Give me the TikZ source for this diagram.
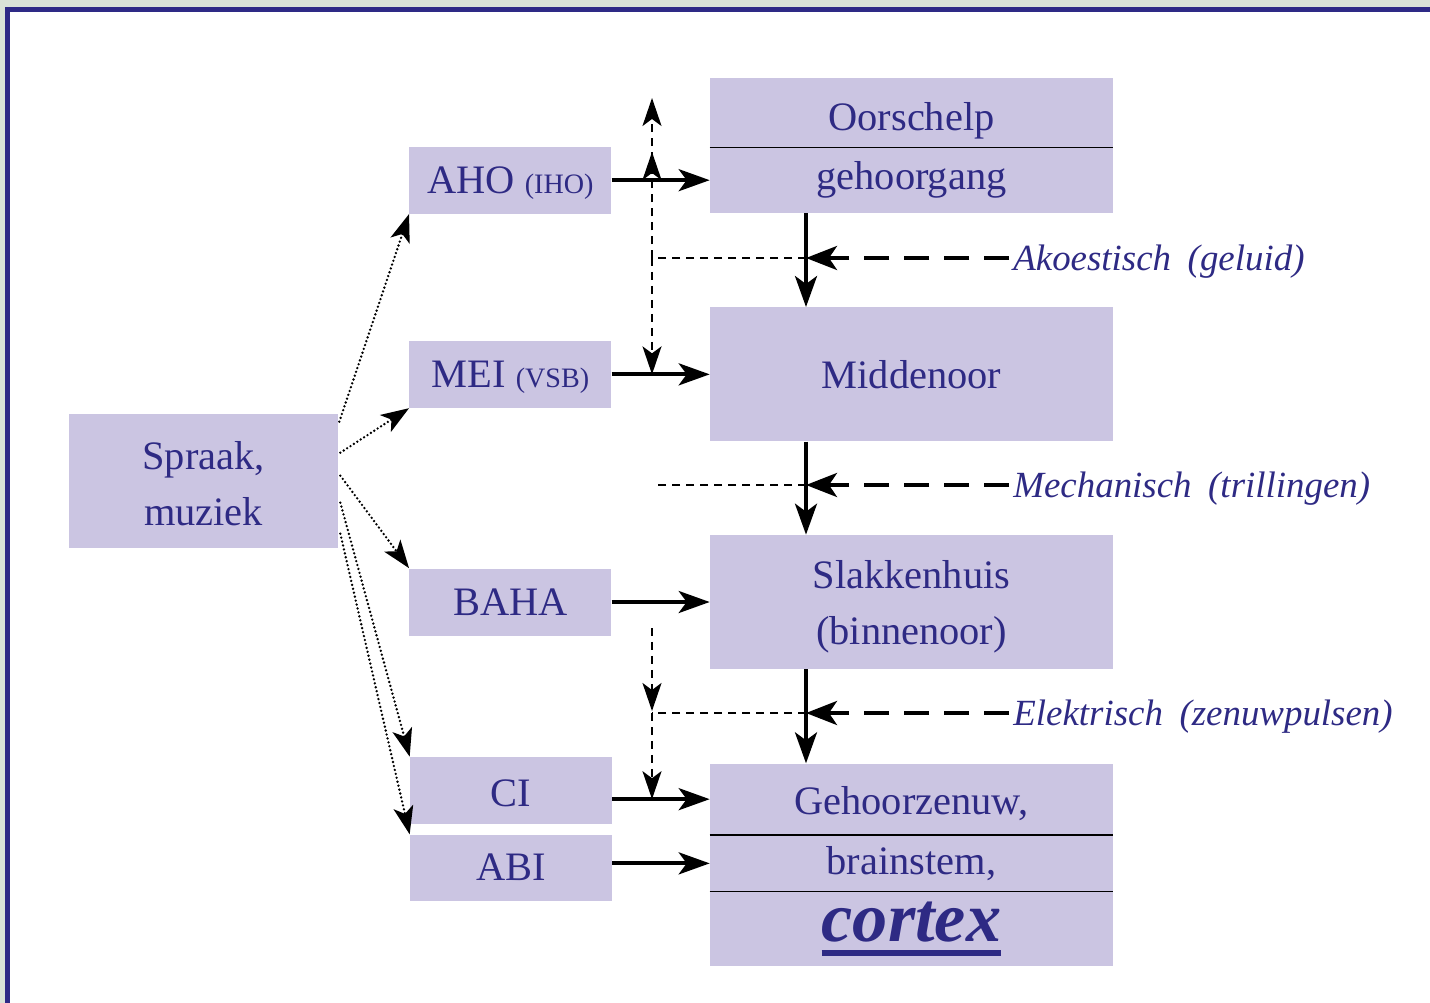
\documentclass[tikz,border=0pt]{standalone}
\usepackage{fontspec}
\setmainfont{Liberation Serif}
\usetikzlibrary{arrows.meta,positioning,calc}
\definecolor{paper}{HTML}{DAE3D8}
\definecolor{frameblue}{HTML}{2E2A86}
\definecolor{ink}{HTML}{2E2A84}
\definecolor{lilac}{HTML}{CBC5E2}
\newcommand{\ctxline}[1]{\setbox0\hbox{#1}\rlap{\rule[-8.5pt]{\wd0}{3.4pt}}\box0}
\newcommand{\smallpart}[1]{{\fontsize{16}{16}\selectfont #1}}
\tikzset{
  organ/.style={rectangle, fill=lilac, text=ink, inner sep=0pt,
    minimum width=8.06cm, font=\fontsize{23}{32}\selectfont},
  aid/.style={rectangle, fill=lilac, text=ink, inner sep=0pt,
    minimum width=4.04cm, minimum height=1.34cm, font=\fontsize{23}{32}\selectfont},
  kind/.style={text=ink, inner sep=0.08cm, anchor=west, text height=19pt,
    font=\fontsize{21}{24}\selectfont\itshape},
  sig/.style={-{Stealth[length=0.62cm,width=0.44cm,inset=0.16cm]}, line width=2.2pt},
  kindarrow/.style={-{Stealth[length=0.62cm,width=0.48cm,inset=0.16cm]}, line width=2.2pt,
    dash pattern=on 0.5cm off 0.3cm},
  route/.style={line width=1.1pt, dash pattern=on 0.16cm off 0.12cm},
  routearrow/.style={route, -{Stealth[length=0.56cm,width=0.38cm,inset=0.14cm]}},
  feed/.style={-{Stealth[length=0.56cm,width=0.4cm,inset=0.14cm]}, line width=1.5pt,
    dash pattern=on 0pt off 2.3pt, line cap=round}
}

\begin{document}
\begin{tikzpicture}[x=0.02cm, y=-0.02cm]
  \useasboundingbox (0,0) rectangle (1430,1003);
  \fill[paper] (0,0) rectangle (1430,1003);
  \begin{scope}
    \clip (0,0) rectangle (1430,1003);
    \filldraw[fill=white, draw=frameblue, line width=3.2pt] (7.5,9.5) rectangle (1460,1030);
  \end{scope}

  % organs of the ear, right column
  \node[organ, minimum height=1.38cm, text height=25pt] (oor1) at (911.5,112.5) {Oorschelp};
  \node[organ, minimum height=1.30cm, below=0pt of oor1] (oor2) {gehoorgang};
  \node[organ, minimum height=2.68cm, below=1.88cm of oor2] (mid) {Middenoor};
  \node[organ, minimum height=2.68cm, below=1.86cm of mid, align=center] (slak)
    {\rule{0pt}{21.5pt}Slakkenhuis\\(binnenoor)};
  \node[organ, minimum height=1.42cm, below=1.88cm of slak, text height=21.5pt] (hz1) {Gehoorzenuw,};
  \node[organ, minimum height=1.12cm, below=0pt of hz1] (hz2) {brainstem,};
  \node[organ, minimum height=1.48cm, below=0pt of hz2] (hz3)
    {\ctxline{\fontsize{40}{40}\selectfont\bfseries\itshape cortex}};
  \draw[line width=0.8pt] (oor1.south west) -- (oor1.south east);
  \draw[line width=0.8pt] (hz1.south west) -- (hz1.south east);
  \draw[line width=0.8pt] (hz2.south west) -- (hz2.south east);

  % hearing aids and implants
  \node[aid, left=1.96cm of oor2, text depth=0pt] (aho) {AHO \smallpart{(IHO)}};
  \node[aid, left=1.96cm of mid, text depth=0pt] (mei) {MEI \smallpart{(VSB)}};
  \node[aid, left=1.96cm of slak] (baha) {BAHA};
  \node[aid, text height=18.6pt, text depth=0pt] (ci) at (511,790.5) {CI};
  \node[aid, minimum height=1.32cm, below=0.2cm of ci] (abi) {ABI};
  \node[aid, minimum width=5.38cm, minimum height=2.68cm, align=center] (spraak) at (203.5,481)
    {\rule{0pt}{19.3pt}Spraak,\\muziek};

  % kind of signal
  \node[kind] (ak) at (1009,258) {Akoestisch\hspace{0.45em}(geluid)};
  \node[kind] (mech) at (1009,485) {Mechanisch\hspace{0.45em}(trillingen)};
  \node[kind] (elek) at (1009,713) {Elektrisch\hspace{0.45em}(zenuwpulsen)};

  \coordinate (spine) at (806,0);
  \coordinate (tap) at (652,0);
  \coordinate (tA) at (652,98);
  \coordinate (tB) at (652,152);
  \coordinate (tE) at (652,628);

  % main signal path
  \draw[sig] (oor2.south -| spine) -- (mid.north -| spine);
  \draw[sig] (mid.south -| spine) -- (slak.north -| spine);
  \draw[sig] (slak.south -| spine) -- (hz1.north -| spine);
  \draw[kindarrow] (ak.west) -- (ak.west -| spine);
  \draw[kindarrow] (mech.west) -- (mech.west -| spine);
  \draw[kindarrow] (elek.west) -- (elek.west -| spine);

  \draw[sig] (aho.east) -- (oor2.west);
  \draw[sig] (mei.east) -- (mid.west);
  \draw[sig] (baha.east) -- (slak.west);
  \draw[sig] (ci.east |- hz1.west) -- (hz1.west);
  \draw[sig] (abi.east |- hz2.west) -- (hz2.west);

  % bypass routes
  \draw[route] (ak.west -| spine) -- (ak.west -| tap);
  \draw[routearrow] (ak.west -| tap) -- (tA);
  \draw[routearrow] (ak.west -| tap) -- (tB);
  \draw[routearrow] (ak.west -| tap) -- (mei.east -| tap);
  \draw[route] (mech.west -| spine) -- ($(mech.west -| tap)+(3,0)$);
  \draw[route] (elek.west -| spine) -- (elek.west -| tap);
  \draw[routearrow] (tE) -- ($(elek.west -| tap)+(0,-2)$);
  \draw[routearrow] (elek.west -| tap) -- (hz1.west -| tap);

  % from sound to the aids
  \draw[feed] ($(spraak.north east)+(1,8)$) -- (aho.south west);
  \draw[feed] ($(spraak.north east)+(2,39)$) -- (mei.south west);
  \draw[feed] ($(spraak.north east)+(2,62)$) -- (baha.north west);
  \draw[feed] ($(spraak.north east)+(2,89)$) -- (ci.north west);
  \draw[feed] ($(spraak.north east)+(2,120)$) -- (abi.north west);
\end{tikzpicture}
\end{document}
